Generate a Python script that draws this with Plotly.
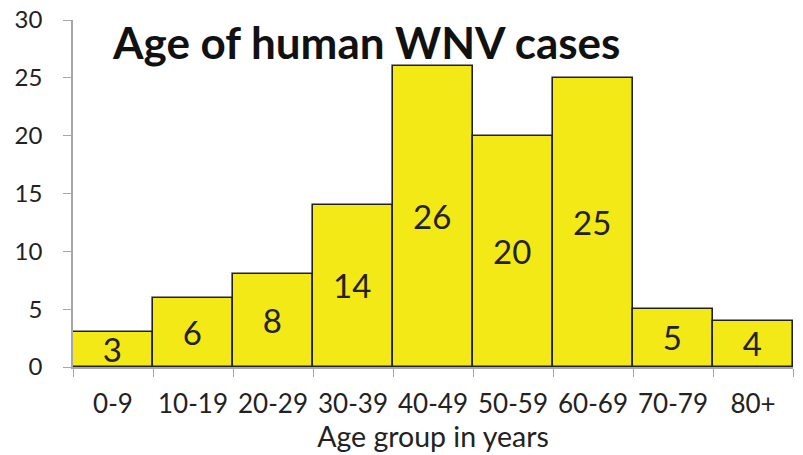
import plotly.graph_objects as go

categories = ["0-9", "10-19", "20-29", "30-39", "40-49", "50-59", "60-69", "70-79", "80+"]
cases = [3, 6, 8, 14, 26, 20, 25, 5, 4]
y_ticks = [0, 5, 10, 15, 20, 25, 30]

FONT = "Lato"

fig = go.Figure(go.Bar(
    x=categories, y=cases,
    marker=dict(color="#F2E917", line=dict(color="#222222", width=1.6)),
    text=[str(v) for v in cases],
    textposition="inside", insidetextanchor="middle", textangle=0,
    constraintext="none",
    textfont=dict(family=FONT, size=33, color="#222222"),
    cliponaxis=False,
))

fig.update_layout(
    width=803, height=455,
    margin=dict(l=73, r=10, t=20, b=88),
    paper_bgcolor="white", plot_bgcolor="white",
    bargap=0, showlegend=False,
    font=dict(family=FONT, color="#222222"),
    annotations=[dict(
        text="<b>Age of human WNV cases</b>", xref="paper", yref="paper",
        x=0.051, y=0.937, xanchor="left", yanchor="middle", showarrow=False,
        font=dict(family=FONT, size=44, color="#111111"),
    )],
)
fig.update_xaxes(
    automargin=False, ticklabeloverflow="allow",
    showline=True, linecolor="#a6a6a6", linewidth=1.5,
    ticks="outside", tickson="boundaries", ticklen=8, tickcolor="#a6a6a6",
    tickfont=dict(family=FONT, size=26, color="#222222"),
    ticklabelstandoff=13,
    title=dict(text="Age group in years", font=dict(family=FONT, size=28.5, color="#222222"), standoff=2),
    showgrid=False,
)
fig.update_yaxes(
    automargin=False, ticklabeloverflow="allow",
    range=[0, 30], tickvals=y_ticks,
    showline=True, linecolor="#a6a6a6", linewidth=1.5,
    ticks="outside", ticklen=8, tickcolor="#a6a6a6",
    tickfont=dict(family=FONT, size=24, color="#222222"),
    ticklabelstandoff=16,
    showgrid=False, zeroline=False,
)

fig.write_html("out.html", config={"displayModeBar": False},
               post_script="document.body.style.margin='0';")
